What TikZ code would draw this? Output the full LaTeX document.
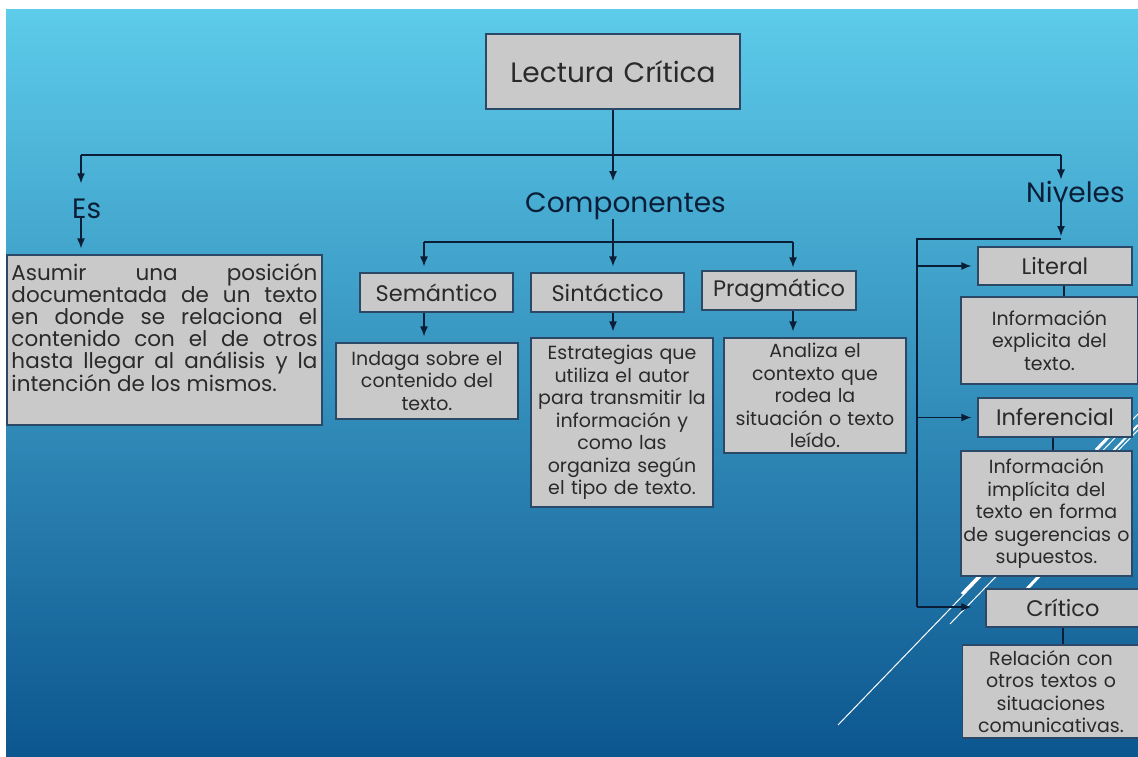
\documentclass[tikz,border=0pt]{standalone}
\usepackage{fontspec}
\setmainfont{Poppins}
\usepackage{xcolor}
\usetikzlibrary{arrows.meta}

\definecolor{fondoarriba}{HTML}{5DCBEA}
\definecolor{fondomedio}{HTML}{2C94C8}
\definecolor{fondoabajo}{HTML}{0C568F}
\definecolor{grisCaja}{HTML}{C9C9C9}
\definecolor{bordeCaja}{HTML}{2B4866}
\definecolor{textoCaja}{HTML}{2A2A2A}
\definecolor{azulLinea}{HTML}{0A1E38}

\newcommand{\letraGrande}{\fontsize{28}{32}\selectfont}
\newcommand{\letraNivel}{\fontsize{22.5}{26}\selectfont}
\newcommand{\letraTexto}{\fontsize{19}{22.5}\selectfont}
\newcommand{\letraEs}{\fontsize{21.5}{21.8}\selectfont}
\newcommand{\renglon}[1]{\makebox[306pt][s]{#1}}

\tikzset{
  caja/.style={draw=bordeCaja, fill=grisCaja, line width=1.2pt, text=textoCaja,
    inner xsep=0pt, inner ysep=0pt, align=center},
  nivel/.style={caja, font=\letraNivel, minimum height=39pt},
  texto/.style={caja, font=\letraTexto},
  titulo/.style={text=azulLinea, inner sep=0pt, font=\letraGrande},
  enlace/.style={draw=azulLinea, line width=1.3pt},
  flecha/.style={enlace, >={Latex[length=10pt,width=8pt]}, ->, shorten >=6pt},
  raya/.style={draw=white, line width=1pt},
}

\begin{document}
\begin{tikzpicture}[x=1pt, y=-1pt]
	\useasboundingbox (0,0) rectangle (1138,757);
	\fill[white] (0,0) rectangle (1138,757);
	\shade[top color=fondoarriba, middle color=fondomedio, bottom color=fondoabajo] (6,10) rectangle (1138,757);

	% rayas blancas del fondo
	\draw[raya] (838,725) -- (1138,414);
	\draw[raya] (950,624) -- (1138,430);
	\draw[raya, line width=3pt] (962,594) -- (986,569);
	\draw[raya, line width=3pt] (1026,590) -- (1041,574);
	\draw[raya, line width=3pt] (1096,450) -- (1121,424);
	\draw[raya, line width=2pt] (1112,452) -- (1138,425);

	% titulo
	\node[caja, font=\letraGrande, minimum width=254pt, minimum height=75pt, text width=254pt] (lectura) at (613,71.5) {Lectura Crítica};

	\node[titulo, anchor=base west] (es) at (72,218) {Es};
	\node[titulo, anchor=base west] (comp) at (525,212) {Componentes};
	\node[titulo, anchor=base west] (niv) at (1026,202) {Niveles};

	\coordinate (bus) at (613,155);
	\coordinate (busL) at (81,155);
	\coordinate (busR) at (1061,155);
	\draw[enlace] (busL) -- (busR);
	\draw[flecha, shorten >=11pt] (lectura.south) -- (bus |- comp.north);
	\draw[flecha, shorten >=15pt] (busL) -- (busL |- es.north);
	\draw[flecha, shorten >=1pt] (busR) -- (busR |- niv.north);

	% Es
	\node[caja, minimum width=315pt, minimum height=170pt] (esdef) at (164.5,340) {};
	\node[text=textoCaja, font=\letraEs, align=center, inner sep=0pt] (estexto) at (164.5,328) {%
		\renglon{Asumir\hfill una\hfill posición}\\
		\renglon{documentada\hfill de\hfill un\hfill texto}\\
		\renglon{en\hfill donde\hfill se\hfill relaciona\hfill el}\\
		\renglon{contenido\hfill con\hfill el\hfill de\hfill otros}\\
		\renglon{hasta\hfill llegar\hfill al\hfill análisis\hfill y\hfill la}\\
		\makebox[306pt][l]{intención de los mismos.}};
	\draw[flecha] (es.south -| busL) -- (esdef.north -| busL);

	% componentes
	\node[nivel, minimum width=153pt, text width=153pt] (sem) at (436.5,292.5) {Semántico};
	\node[nivel, minimum width=153pt, text width=153pt] (sin) at (607.5,292.5) {Sintáctico};
	\node[nivel, minimum width=154pt, text width=154pt] (prag) at (779,290.5) {Pragmático};

	\node[texto, minimum width=182pt, minimum height=76pt, text width=182pt] (semd) at (427,381) {Indaga sobre el\\contenido del\\texto.};
	\node[texto, minimum width=182pt, minimum height=169pt, text width=182pt] (sind) at (622,422.5) {Estrategias que\\utiliza el autor\\para transmitir la\\información y\\como las\\organiza según\\el tipo de texto.};
	\node[texto, minimum width=182pt, minimum height=115pt, text width=182pt] (pragd) at (815,395.5) {Analiza el\\contexto que\\rodea la\\situación o texto\\leído.};

	\coordinate (cbus) at (613,242);
	\coordinate (cbusL) at (424,242);
	\coordinate (cbusR) at (793,242);
	\draw[enlace] (comp.south -| cbus) -- (cbus);
	\draw[enlace] (cbusL) -- (cbusR);
	\draw[flecha] (cbusL) -- (cbusL |- sem.north);
	\draw[flecha] (cbus) -- (cbus |- sin.north);
	\draw[flecha, shorten >=3pt] (cbusR) -- (cbusR |- prag.north);
	\draw[flecha] (sem.south -| cbusL) -- (semd.north -| cbusL);
	\draw[flecha] (sin.south -| cbus) -- (sind.north -| cbus);
	\draw[flecha] (prag.south -| cbusR) -- (pragd.north -| cbusR);

	% niveles
	\node[nivel, minimum width=154pt, text width=154pt, minimum height=38pt] (lit) at (1055,266) {Literal};
	\node[texto, minimum width=177pt, minimum height=87pt, text width=177pt] (litd) at (1049.5,340.5) {Información\\explicita del\\texto.};
	\node[nivel, minimum width=154pt, text width=154pt] (inf) at (1055,417.5) {Inferencial};
	\node[texto, minimum width=171pt, minimum height=125pt, text width=171pt] (infd) at (1046.5,513.5) {Información\\implícita del\\texto en forma\\de sugerencias o\\supuestos.};
	\node[nivel, minimum width=154pt, text width=154pt, minimum height=38pt] (crit) at (1063,608) {Crítico};
	\node[texto, minimum width=177pt, minimum height=93pt, text width=177pt] (critd) at (1051,691.5) {Relación con\\otros textos o\\situaciones\\comunicativas.};

	\coordinate (nbus) at (1061,239);
	\coordinate (nbusL) at (917,239);
	\coordinate (nbusB) at (917,607);
	\draw[flecha, shorten >=3pt] (niv.south -| nbus) -- (nbus);
	\draw[enlace] (nbus) -- (nbusL) -- (nbusB);
	\draw[flecha] (lit.west -| nbusL) -- (lit.west);
	\draw[flecha] (inf.west -| nbusL) -- (inf.west);
	\draw[flecha, shorten >=14pt] (nbusB) -- (nbusB -| crit.west);
	\draw[enlace] (lit.south -| 1064,0) -- (litd.north -| 1064,0);
	\draw[enlace] (inf.south -| 1053,0) -- (infd.north -| 1053,0);
	\draw[enlace] (crit.south) -- (critd.north -| crit.south);
\end{tikzpicture}
\end{document}
